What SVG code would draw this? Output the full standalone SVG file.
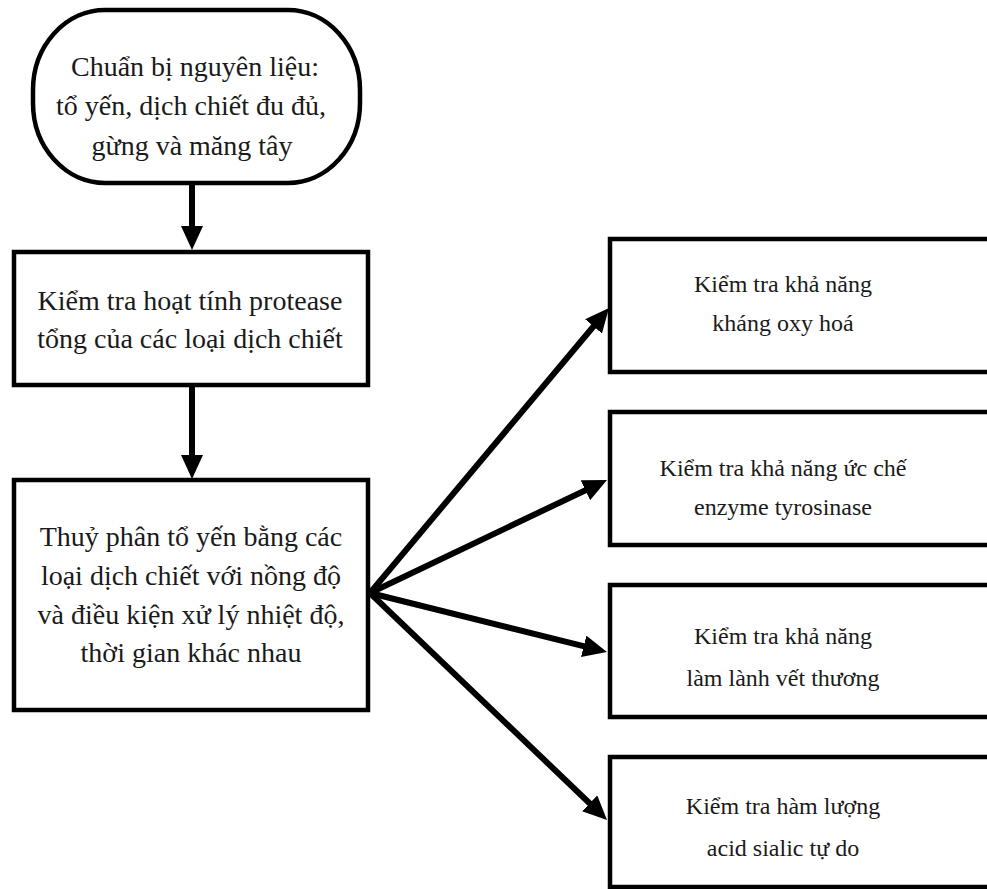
<svg xmlns="http://www.w3.org/2000/svg" width="987" height="889" viewBox="0 0 987 889">
<defs>
<style>
.box{fill:#fff;stroke:#000;stroke-width:4.5}
.t{font-family:"Liberation Serif","Times New Roman",serif;font-size:28px;fill:#1a1a1a;text-anchor:middle}
.tr{font-family:"Liberation Serif","Times New Roman",serif;font-size:24px;fill:#1a1a1a;text-anchor:middle}
.c{stroke:#000;stroke-width:6;fill:none}
</style>
<marker id="ah" markerUnits="userSpaceOnUse" markerWidth="24" markerHeight="22" viewBox="0 0 24 22" refX="6" refY="11" orient="auto">
<path d="M0,0 L24,11 L0,22 Z" fill="#000"/>
</marker>
</defs>
<rect width="987" height="889" fill="#fff"/>
<g id="n1">
<rect class="box" x="33" y="10" width="327" height="173" rx="72" ry="80"/>
<text class="t" x="195" y="76">Chuẩn bị nguyên liệu:</text>
<text class="t" x="191" y="115">tổ yến, dịch chiết đu đủ,</text>
<text class="t" x="192" y="155">gừng và măng tây</text>
</g>
<g id="n2">
<rect class="box" x="14" y="252" width="354" height="133"/>
<text class="t" x="190" y="310">Kiểm tra hoạt tính protease</text>
<text class="t" x="190" y="348">tổng của các loại dịch chiết</text>
</g>
<g id="n3">
<rect class="box" x="14" y="480" width="354" height="230"/>
<text class="t" x="191" y="546">Thuỷ phân tổ yến bằng các</text>
<text class="t" x="191" y="585">loại dịch chiết với nồng độ</text>
<text class="t" x="191" y="624">và điều kiện xử lý nhiệt độ,</text>
<text class="t" x="191" y="662">thời gian khác nhau</text>
</g>
<g id="n4">
<rect class="box" x="610" y="239" width="400" height="133"/>
<text class="tr" x="783" y="292">Kiểm tra khả năng</text>
<text class="tr" x="783" y="331">kháng oxy hoá</text>
</g>
<g id="n5">
<rect class="box" x="610" y="412" width="400" height="133"/>
<text class="tr" x="783" y="476">Kiểm tra khả năng ức chế</text>
<text class="tr" x="783" y="515">enzyme tyrosinase</text>
</g>
<g id="n6">
<rect class="box" x="610" y="585" width="400" height="132"/>
<text class="tr" x="783" y="644">Kiểm tra khả năng</text>
<text class="tr" x="783" y="686">làm lành vết thương</text>
</g>
<g id="n7">
<rect class="box" x="610" y="757" width="400" height="130"/>
<text class="tr" x="783" y="814">Kiểm tra hàm lượng</text>
<text class="tr" x="783" y="856">acid sialic tự do</text>
</g>
<g id="connectors">
<line class="c" x1="192" y1="183" x2="192" y2="232" marker-end="url(#ah)"/>
<line class="c" x1="192" y1="385" x2="192" y2="461" marker-end="url(#ah)"/>
<line class="c" x1="370" y1="593" x2="597.4" y2="321.8" marker-end="url(#ah)"/>
<line class="c" x1="370" y1="593" x2="590.8" y2="487.7" marker-end="url(#ah)"/>
<line class="c" x1="370" y1="593" x2="589.5" y2="647.7" marker-end="url(#ah)"/>
<line class="c" x1="370" y1="593" x2="594" y2="807.5" marker-end="url(#ah)"/>
</g>
</svg>
